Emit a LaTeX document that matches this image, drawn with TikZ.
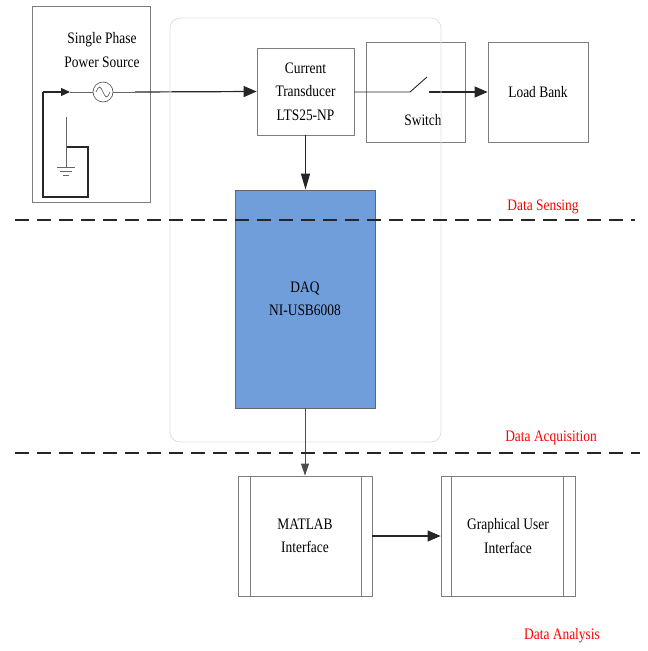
\documentclass[tikz,border=0pt]{standalone}
\usepackage{fontspec}
\setmainfont{Liberation Serif}[FakeStretch=0.84]
\usetikzlibrary{arrows.meta}
\definecolor{daqblue}{RGB}{112,158,219}
\definecolor{boxgrey}{RGB}{125,125,125}
\begin{document}
\begin{tikzpicture}[x=1pt,y=-1pt,
  every node/.style={font=\fontsize{16}{23.5}\selectfont, inner sep=0pt},
  box/.style={draw=boxgrey, line width=0.8pt},
  arr/.style={-{Triangle[length=13pt,width=11pt]}},
  wire/.style={line width=1.2pt, black!85},
  thinwire/.style={line width=0.6pt, black!60},
  lbl/.style={text=red},
  sep/.style={line width=1.3pt, black!85, dash pattern=on 14pt off 8pt}]
\useasboundingbox (0,0) rectangle (648,651);

% power source
\node[box, minimum width=118pt, minimum height=196pt] (ps) at (91,104) {};
\node[align=center] (pstext) at (102,50) {Single Phase\\Power Source};
\node[circle, draw=black!70, line width=0.6pt, minimum size=20pt] (ac) at (103,92) {};
\draw[line width=0.6pt, black!70] (96,92) sin (99.5,87) cos (103,92) sin (106.5,97) cos (110,92);
\coordinate (pa) at (43,92);
\coordinate (pb) at (70,92);
\draw[wire] (66,147) -- (88,147) -- (88,197) -- (43,197) -- (pa);
\draw[wire, -{Triangle[length=9pt,width=8pt]}] (pa) -- (pb);
\draw[thinwire] (pb) -- (ac.west);
\coordinate (g1) at (66,117);
\coordinate (g2) at (66,167);
\draw[thinwire] (g1) -- (g2);
\draw[thinwire] (57,167) -- (75,167) (60,171) -- (72,171) (63,175) -- (69,175);

% current transducer
\node[box, minimum width=97pt, minimum height=87pt, align=center] (ct) at (305.5,91.5) {Current\\Transducer\\LTS25-NP};
\coordinate (acout) at (135,92);
\draw[thinwire] (ac.east) -- (acout);
\draw[wire, arr] (acout) -- (ct.west);

% switch
\node[box, minimum width=99pt, minimum height=100pt] (sw) at (415.5,92) {};
\node (swtext) at (423,120) {Switch};
\coordinate (swa) at (410,92);
\coordinate (swb) at (427,77);
\coordinate (swc) at (429,92);

% load bank
\node[box, minimum width=100pt, minimum height=100pt] (lb) at (538,92) {Load Bank};
\draw[line width=0.9pt, black!85] (ct.east |- swa) -- (swa) -- (swb);
\draw[wire, arr] (swc) -- (lb.west);

% group frame
\draw[draw=black!12, line width=0.8pt, rounded corners=10pt] (170,18) rectangle (441,442);

% DAQ
\node[draw=black!60, fill=daqblue, line width=0.8pt, minimum width=140pt, minimum height=218pt, align=center] (daq) at (305,299) {DAQ\\NI-USB6008};
\draw[wire, -{Triangle[length=16pt,width=9pt]}] (ct.south) -- (ct.south |- daq.north);

% MATLAB and GUI
\node[box, minimum width=134pt, minimum height=120pt, align=center] (ml) at (305,536) {MATLAB\\Interface};
\draw[boxgrey, line width=0.8pt] ([xshift=13pt]ml.north west) -- ([xshift=13pt]ml.south west)
  ([xshift=-11pt]ml.north east) -- ([xshift=-11pt]ml.south east);
\node[box, minimum width=134pt, minimum height=120pt, align=center] (gui) at (508,536) {Graphical User\\Interface};
\draw[boxgrey, line width=0.8pt] ([xshift=11pt]gui.north west) -- ([xshift=11pt]gui.south west)
  ([xshift=-12pt]gui.north east) -- ([xshift=-12pt]gui.south east);
\draw[line width=1pt, black!70, -{Triangle[length=12pt,width=8pt]}] (daq.south) -- (ml.north);
\draw[wire, arr] (ml.east) -- (gui.west);

% separators
\coordinate (d1l) at (15,220);
\coordinate (d1r) at (635,220);
\coordinate (d2l) at (15,453);
\coordinate (d2r) at (640,453);
\draw[sep] (d1l) -- (d1r);
\draw[sep] (d2l) -- (d2r);

% stage labels
\node[lbl] (ls) at (543,207) {Data Sensing};
\node[lbl] (la) at (551,438) {Data Acquisition};
\node[lbl] (lan) at (562,636) {Data Analysis};
\end{tikzpicture}
\end{document}
